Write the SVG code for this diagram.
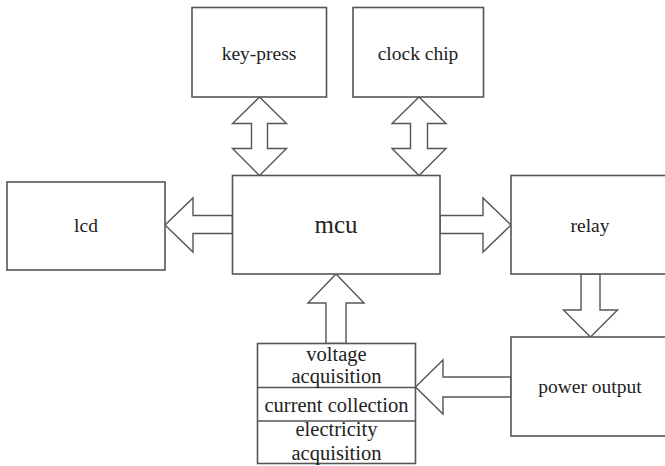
<svg xmlns="http://www.w3.org/2000/svg" width="665" height="466" viewBox="0 0 665 466" font-family="Liberation Serif, Times New Roman, serif">
<style>
.box{fill:#fff;stroke:#555;stroke-width:1.6}
.arr{fill:#fff;stroke:#555;stroke-width:1.4;stroke-linejoin:miter}
text{fill:#222;text-anchor:middle;font-size:19.5px}
.big{font-size:25px}
.s{font-size:20.5px}
</style>
<rect width="665" height="466" fill="#fff"/>
<g id="connectors">
<polygon class="arr" points="259.5,97 286.5,123.5 267.5,123.5 267.5,148.5 286.5,148.5 259.5,175.5 232.5,148.5 251.5,148.5 251.5,123.5 232.5,123.5"/>
<polygon class="arr" points="419,97 446,123.5 427.5,123.5 427.5,148.5 446,148.5 419,175.5 392,148.5 410.5,148.5 410.5,123.5 392,123.5"/>
<polygon class="arr" points="232.5,215.5 193,215.5 193,198 165,225 193,252 193,233.5 232.5,233.5"/>
<polygon class="arr" points="440,215.5 483,215.5 483,198 511,225 483,252 483,233.5 440,233.5"/>
<polygon class="arr" points="581,274 581,310 563.5,310 590.5,337 617.5,310 600,310 600,274"/>
<polygon class="arr" points="511,377 443,377 443,360 415.5,387 443,414 443,397 511,397"/>
<polygon class="arr" points="326,343.5 326,303 308,303 336,274 364,303 346,303 346,343.5"/>
</g>
<g id="key-press"><rect class="box" x="192" y="7.5" width="134.5" height="89.5"/><text x="259" y="60">key-press</text></g>
<g id="clock-chip"><rect class="box" x="353" y="7.5" width="130.5" height="89.5"/><text x="418" y="60">clock chip</text></g>
<g id="lcd"><rect class="box" x="7" y="182" width="158" height="88"/><text x="86" y="232">lcd</text></g>
<g id="mcu"><rect class="box" x="232.5" y="175.5" width="207.5" height="98.5"/><text class="big" x="336" y="233">mcu</text></g>
<g id="relay"><rect class="box" x="511" y="175.5" width="160" height="98.5"/><text x="590" y="232">relay</text></g>
<g id="power-output"><rect class="box" x="511" y="337" width="160" height="99"/><text x="590" y="393">power output</text></g>
<g id="acquisition">
<rect class="box" x="257.5" y="343.5" width="158" height="120"/>
<line class="box" x1="257.5" y1="387.5" x2="415.5" y2="387.5"/>
<line class="box" x1="257.5" y1="421" x2="415.5" y2="421"/>
<text class="s" x="336.5" y="360.5">voltage</text>
<text class="s" x="336.5" y="383">acquisition</text>
<text class="s" x="336.5" y="411.5">current collection</text>
<text class="s" x="336.5" y="436">electricity</text>
<text class="s" x="336.5" y="459.5">acquisition</text>
</g>
</svg>
